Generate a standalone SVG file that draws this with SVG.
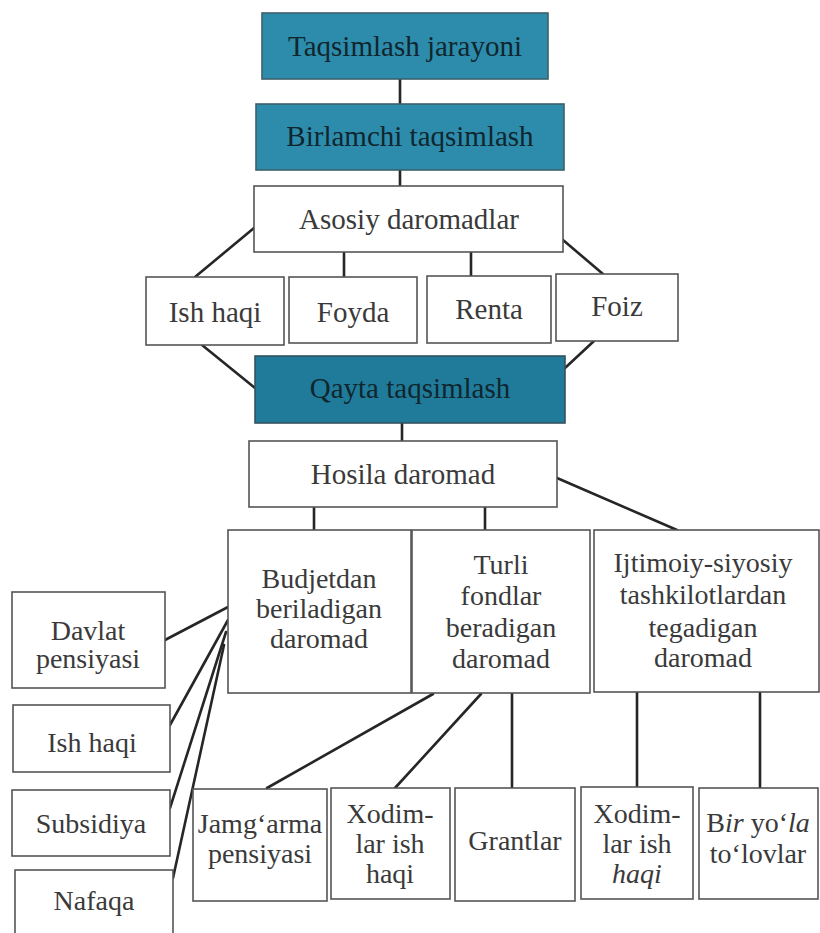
<svg xmlns="http://www.w3.org/2000/svg" width="820" height="933" viewBox="0 0 820 933">
<style>
  .box { fill: #ffffff; stroke: #555555; stroke-width: 1.6; }
  .teal { fill: #2d8cab; stroke: #3d5f6b; stroke-width: 1.6; }
  .teal2 { fill: #1f7b99; stroke: #33535e; stroke-width: 1.6; }
  text { font-family: 'Liberation Serif', 'Times New Roman', serif; fill: #3a3a3a; text-anchor: middle; }
  .t { font-size: 29px; }
  .s { font-size: 28px; }
  .d { fill: #10262e; }
  .it { font-style: italic; }
  .c { stroke: #262626; stroke-width: 2.6; fill: none; stroke-linecap: round; }
</style>
<rect width="820" height="933" fill="#ffffff"/>

<g id="connectors">
  <line class="c" x1="400" y1="79" x2="400" y2="104"/>
  <line class="c" x1="400" y1="170" x2="400" y2="186"/>
  <line class="c" x1="254" y1="228" x2="195" y2="277"/>
  <line class="c" x1="344" y1="252" x2="344" y2="277"/>
  <line class="c" x1="471" y1="252" x2="471" y2="276"/>
  <line class="c" x1="563" y1="240" x2="603" y2="274"/>
  <line class="c" x1="202" y1="345" x2="255" y2="388"/>
  <line class="c" x1="594" y1="341" x2="565" y2="368"/>
  <line class="c" x1="402" y1="423" x2="402" y2="441"/>
  <line class="c" x1="314" y1="507" x2="314" y2="530"/>
  <line class="c" x1="485" y1="507" x2="485" y2="530"/>
  <line class="c" x1="557" y1="478" x2="677" y2="530"/>
  <line class="c" x1="165" y1="640" x2="228" y2="607"/>
  <line class="c" x1="170" y1="725" x2="228" y2="620"/>
  <line class="c" x1="170" y1="808" x2="226" y2="632"/>
  <line class="c" x1="173" y1="878" x2="224" y2="645"/>
  <line class="c" x1="433" y1="694" x2="267" y2="788"/>
  <line class="c" x1="481" y1="694" x2="395" y2="788"/>
  <line class="c" x1="512" y1="693" x2="512" y2="788"/>
  <line class="c" x1="637" y1="692" x2="637" y2="787"/>
  <line class="c" x1="760" y1="692" x2="760" y2="788"/>
</g>

<g id="taqsimlash-jarayoni">
  <rect class="teal" x="262" y="13" width="286" height="66"/>
  <text class="t d" x="405" y="56">Taqsimlash jarayoni</text>
</g>
<g id="birlamchi-taqsimlash">
  <rect class="teal" x="256" y="104" width="308" height="66"/>
  <text class="t d" x="410" y="146">Birlamchi taqsimlash</text>
</g>
<g id="asosiy-daromadlar">
  <rect class="box" x="254" y="186" width="309" height="66"/>
  <text class="t" x="409" y="229">Asosiy daromadlar</text>
</g>
<g id="ish-haqi-top">
  <rect class="box" x="146" y="277" width="138" height="68"/>
  <text class="t" x="215" y="322">Ish haqi</text>
</g>
<g id="foyda">
  <rect class="box" x="289" y="277" width="128" height="66"/>
  <text class="t" x="353" y="322">Foyda</text>
</g>
<g id="renta">
  <rect class="box" x="427" y="276" width="124" height="67"/>
  <text class="t" x="489" y="319">Renta</text>
</g>
<g id="foiz">
  <rect class="box" x="556" y="274" width="122" height="67"/>
  <text class="t" x="617" y="316">Foiz</text>
</g>
<g id="qayta-taqsimlash">
  <rect class="teal2" x="255" y="356" width="310" height="67"/>
  <text class="t d" x="410" y="398">Qayta taqsimlash</text>
</g>
<g id="hosila-daromad">
  <rect class="box" x="249" y="441" width="308" height="66"/>
  <text class="t" x="403" y="484">Hosila daromad</text>
</g>
<g id="budjetdan">
  <rect class="box" x="228" y="530" width="183" height="163"/>
  <text class="s" x="319" y="588">Budjetdan</text>
  <text class="s" x="319" y="618">beriladigan</text>
  <text class="s" x="319" y="648">daromad</text>
</g>
<g id="turli-fondlar">
  <rect class="box" x="412" y="530" width="178" height="163"/>
  <text class="s" x="501" y="574">Turli</text>
  <text class="s" x="501" y="605">fondlar</text>
  <text class="s" x="501" y="637">beradigan</text>
  <text class="s" x="501" y="668">daromad</text>
</g>
<g id="ijtimoiy-siyosiy">
  <rect class="box" x="594" y="530" width="225" height="162"/>
  <text class="s" x="703" y="572">Ijtimoiy-siyosiy</text>
  <text class="s" x="703" y="604">tashkilotlardan</text>
  <text class="s" x="703" y="637">tegadigan</text>
  <text class="s" x="703" y="667">daromad</text>
</g>
<g id="davlat-pensiyasi">
  <rect class="box" x="12" y="592" width="153" height="96"/>
  <text class="s" x="88" y="640">Davlat</text>
  <text class="s" x="88" y="668">pensiyasi</text>
</g>
<g id="ish-haqi-left">
  <rect class="box" x="13" y="705" width="157" height="67"/>
  <text class="s" x="92" y="752">Ish haqi</text>
</g>
<g id="subsidiya">
  <rect class="box" x="12" y="790" width="158" height="66"/>
  <text class="s" x="91" y="833">Subsidiya</text>
</g>
<g id="nafaqa">
  <rect class="box" x="15" y="870" width="158" height="80"/>
  <text class="s" x="94" y="910">Nafaqa</text>
</g>
<g id="jamgarma-pensiyasi">
  <rect class="box" x="193" y="789" width="134" height="112"/>
  <text class="s" x="260" y="833">Jamg‘arma</text>
  <text class="s" x="260" y="863">pensiyasi</text>
</g>
<g id="xodimlar-ish-haqi-1">
  <rect class="box" x="331" y="788" width="119" height="111"/>
  <text class="s" x="390" y="823">Xodim-</text>
  <text class="s" x="390" y="853">lar ish</text>
  <text class="s" x="390" y="883">haqi</text>
</g>
<g id="grantlar">
  <rect class="box" x="455" y="788" width="120" height="113"/>
  <text class="s" x="515" y="850">Grantlar</text>
</g>
<g id="xodimlar-ish-haqi-2">
  <rect class="box" x="581" y="787" width="112" height="112"/>
  <text class="s" x="637" y="823">Xodim-</text>
  <text class="s" x="637" y="853">lar ish</text>
  <text class="s it" x="637" y="883">haqi</text>
</g>
<g id="bir-yola-tolovlar">
  <rect class="box" x="699" y="788" width="119" height="111"/>
  <text class="s" x="758" y="832">B<tspan class="it">ir</tspan> yo‘<tspan class="it">la</tspan></text>
  <text class="s" x="758" y="863">to‘lovlar</text>
</g>
</svg>
